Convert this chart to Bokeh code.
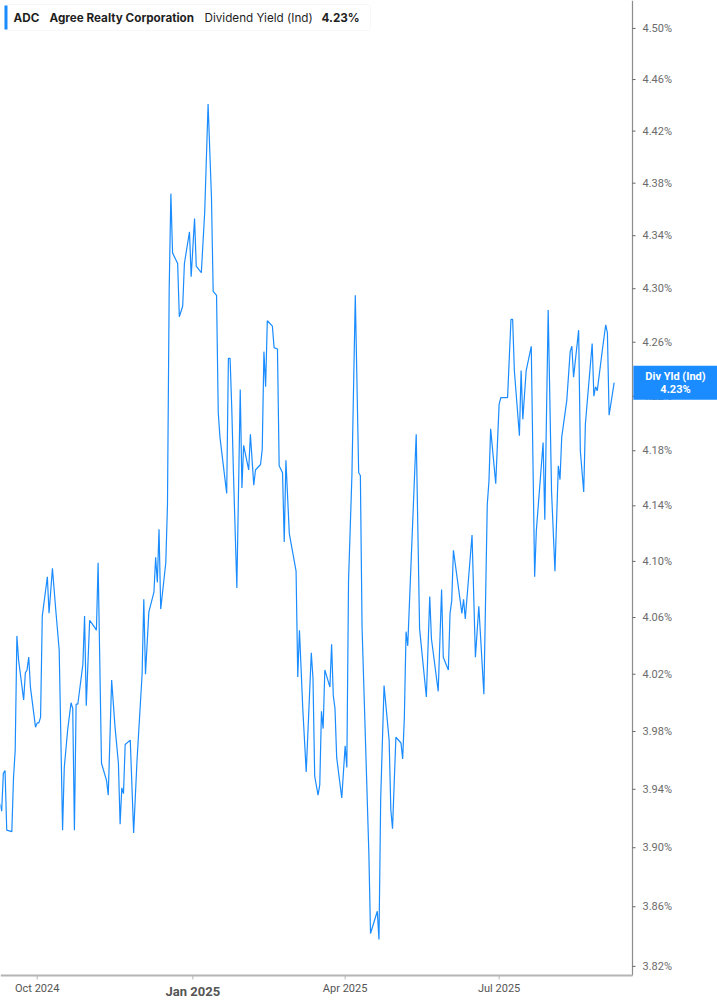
from datetime import datetime, timedelta
import pandas as pd
from bokeh.plotting import figure
from bokeh.models import Label, BoxAnnotation, Range1d, ColumnDataSource, LogScale
from bokeh.core.properties import value
from bokeh.embed import file_html
from bokeh.resources import INLINE

symbol = "ADC"
company = "Agree Realty Corporation"
metric = "Dividend Yield (Ind)"
badge_title = "Div Yld (Ind)"

dates = [
    "2024-09-09", "2024-09-10", "2024-09-11", "2024-09-12", "2024-09-13", "2024-09-16", "2024-09-17", "2024-09-18", "2024-09-19", "2024-09-20",
    "2024-09-23", "2024-09-24", "2024-09-25", "2024-09-26", "2024-09-27", "2024-09-30", "2024-10-01", "2024-10-02", "2024-10-03", "2024-10-04",
    "2024-10-07", "2024-10-08", "2024-10-10", "2024-10-12", "2024-10-14", "2024-10-16", "2024-10-17", "2024-10-19", "2024-10-21", "2024-10-22",
    "2024-10-23", "2024-10-24", "2024-10-25", "2024-10-28", "2024-10-29", "2024-10-30", "2024-11-01", "2024-11-04", "2024-11-05", "2024-11-06",
    "2024-11-08", "2024-11-11", "2024-11-12", "2024-11-14", "2024-11-16", "2024-11-18", "2024-11-19", "2024-11-20", "2024-11-21", "2024-11-22",
    "2024-11-25", "2024-11-27", "2024-11-29", "2024-12-02", "2024-12-03", "2024-12-04", "2024-12-06", "2024-12-09", "2024-12-10", "2024-12-11",
    "2024-12-12", "2024-12-13", "2024-12-16", "2024-12-17", "2024-12-18", "2024-12-19", "2024-12-20", "2024-12-23", "2024-12-24", "2024-12-26",
    "2024-12-27", "2024-12-30", "2024-12-31", "2025-01-02", "2025-01-03", "2025-01-06", "2025-01-08", "2025-01-10", "2025-01-12", "2025-01-13",
    "2025-01-15", "2025-01-16", "2025-01-17", "2025-01-21", "2025-01-22", "2025-01-23", "2025-01-24", "2025-01-25", "2025-01-27", "2025-01-29",
    "2025-01-30", "2025-01-31", "2025-02-03", "2025-02-04", "2025-02-06", "2025-02-07", "2025-02-10", "2025-02-11", "2025-02-12", "2025-02-13",
    "2025-02-14", "2025-02-17", "2025-02-18", "2025-02-20", "2025-02-21", "2025-02-23", "2025-02-24", "2025-02-25", "2025-02-27", "2025-03-03",
    "2025-03-04", "2025-03-05", "2025-03-07", "2025-03-09", "2025-03-12", "2025-03-13", "2025-03-14", "2025-03-16", "2025-03-17", "2025-03-18",
    "2025-03-19", "2025-03-20", "2025-03-23", "2025-03-24", "2025-03-25", "2025-03-26", "2025-03-27", "2025-03-30", "2025-04-01", "2025-04-02",
    "2025-04-03", "2025-04-05", "2025-04-07", "2025-04-09", "2025-04-10", "2025-04-11", "2025-04-15", "2025-04-16", "2025-04-20", "2025-04-21",
    "2025-04-22", "2025-04-24", "2025-04-27", "2025-04-28", "2025-04-29", "2025-05-01", "2025-05-04", "2025-05-05", "2025-05-06", "2025-05-07",
    "2025-05-08", "2025-05-13", "2025-05-15", "2025-05-19", "2025-05-21", "2025-05-22", "2025-05-26", "2025-05-28", "2025-05-29", "2025-06-01",
    "2025-06-02", "2025-06-03", "2025-06-04", "2025-06-09", "2025-06-10", "2025-06-11", "2025-06-15", "2025-06-17", "2025-06-19", "2025-06-22",
    "2025-06-24", "2025-06-25", "2025-06-26", "2025-06-29", "2025-07-01", "2025-07-02", "2025-07-06", "2025-07-08", "2025-07-09", "2025-07-10",
    "2025-07-13", "2025-07-14", "2025-07-15", "2025-07-17", "2025-07-20", "2025-07-22", "2025-07-23", "2025-07-27", "2025-07-28", "2025-07-30",
    "2025-08-01", "2025-08-03", "2025-08-05", "2025-08-06", "2025-08-07", "2025-08-10", "2025-08-12", "2025-08-13", "2025-08-14", "2025-08-17",
    "2025-08-18", "2025-08-20", "2025-08-21", "2025-08-25", "2025-08-26", "2025-08-27", "2025-08-28", "2025-08-31", "2025-09-02", "2025-09-03",
    "2025-09-04", "2025-09-07",
]

yields = [
    3.930, 3.925, 3.951, 3.953, 3.912, 3.911, 3.948, 3.967, 4.047, 4.030,
    4.002, 4.021, 4.023, 4.032, 4.011, 3.983, 3.986, 3.986, 3.990, 4.061,
    4.089, 4.063, 4.095, 4.065, 4.037, 3.912, 3.955, 3.981, 4.000, 3.996,
    3.912, 3.999, 3.999, 4.027, 4.061, 3.998, 4.058, 4.053, 4.051, 4.099,
    3.958, 3.946, 3.936, 4.016, 3.983, 3.958, 3.916, 3.941, 3.937, 3.971,
    3.974, 3.910, 3.960, 4.020, 4.073, 4.020, 4.064, 4.078, 4.103, 4.085,
    4.123, 4.066, 4.099, 4.141, 4.299, 4.372, 4.327, 4.319, 4.279, 4.287,
    4.319, 4.343, 4.309, 4.353, 4.317, 4.312, 4.358, 4.441, 4.369, 4.298,
    4.295, 4.208, 4.190, 4.149, 4.248, 4.248, 4.211, 4.163, 4.081, 4.225,
    4.153, 4.184, 4.166, 4.192, 4.155, 4.166, 4.170, 4.181, 4.253, 4.227,
    4.276, 4.272, 4.256, 4.255, 4.169, 4.164, 4.114, 4.173, 4.120, 4.093,
    4.018, 4.051, 3.995, 3.952, 4.035, 4.017, 3.949, 3.936, 3.943, 3.994,
    3.982, 4.023, 4.011, 4.041, 4.005, 3.996, 3.962, 3.934, 3.970, 3.955,
    4.086, 4.162, 4.295, 4.164, 4.162, 4.053, 3.897, 3.842, 3.857, 3.838,
    3.933, 4.012, 3.974, 3.926, 3.913, 3.976, 3.972, 3.961, 3.990, 4.050,
    4.040, 4.192, 4.052, 4.004, 4.075, 4.045, 4.008, 4.080, 4.032, 4.023,
    4.063, 4.072, 4.108, 4.063, 4.073, 4.059, 4.119, 4.032, 4.068, 4.006,
    4.141, 4.158, 4.196, 4.156, 4.214, 4.219, 4.219, 4.277, 4.277, 4.239,
    4.191, 4.239, 4.203, 4.239, 4.257, 4.089, 4.122, 4.186, 4.130, 4.284,
    4.150, 4.093, 4.169, 4.159, 4.190, 4.217, 4.253, 4.257, 4.234, 4.269,
    4.180, 4.150, 4.200, 4.259, 4.220, 4.227, 4.224, 4.254, 4.273, 4.267,
    4.206, 4.230,
]

y_ticks = [3.82, 3.86, 3.90, 3.94, 3.98, 4.02, 4.06, 4.10, 4.14, 4.18,
           4.22, 4.26, 4.30, 4.34, 4.38, 4.42, 4.46, 4.50]
x_tick_dates = ["2024-10-01", "2025-01-01", "2025-04-01", "2025-07-01"]
x_tick_labels = ["Oct 2024", "Jan 2025", "Apr 2025", "Jul 2025"]
x_tick_bold = [False, True, False, False]

# ---- layout / style constants ----
BLUE = "#1a8cff"
W, H = 717, 1005
X_START = datetime(2024, 9, 9, 7, 26)     # left edge of the canvas
X_END = datetime(2025, 11, 7, 1, 40)      # right edge of the canvas
AXIS_X = datetime(2025, 9, 17, 20, 0)     # where the value axis sits
Y_TOP, Y_BOTTOM = 4.522, 3.794            # canvas top / bottom on the log scale
Y_AXIS = 3.814                            # where the time axis sits
AXIS_FONT = "Roboto"
LEGEND_FONT = "Inter"


def y_below(v, px):
    """value that lies px pixels below v on the log scale"""
    return v * (Y_BOTTOM / Y_TOP) ** (px / H)


px_per_day = W / ((X_END - X_START).total_seconds() / 86400)


def x_right(t, px):
    return t + timedelta(days=px / px_per_day)


src = ColumnDataSource(dict(date=pd.to_datetime(dates), yld=yields))

p = figure(width=W, height=H, output_backend="svg", toolbar_location=None,
           x_axis_type="datetime", y_axis_type="log",
           x_axis_location=None, y_axis_location=None,
           x_range=Range1d(X_START, X_END), y_range=Range1d(Y_BOTTOM, Y_TOP),
           title=None, min_border=0)
p.y_scale = LogScale()
p.outline_line_color = None
p.xgrid.visible = False
p.ygrid.visible = False
p.background_fill_color = "white"
p.border_fill_color = "white"

# data line
p.line("date", "yld", source=src, line_color=BLUE, line_width=1.2)

# ---- value axis (right) ----
n_y = len(y_ticks)
p.segment(x0=[AXIS_X], y0=[Y_AXIS], x1=[AXIS_X], y1=[Y_TOP],
          line_color="#8c8c8c", line_width=1.2)
p.segment(x0=[AXIS_X] * n_y, y0=y_ticks, x1=[x_right(AXIS_X, 3)] * n_y, y1=y_ticks,
          line_color="#666666", line_width=1)
ysrc = ColumnDataSource(dict(x=[AXIS_X] * n_y, y=y_ticks,
                             text=[f"{t:.2f}%" for t in y_ticks]))
p.text(x="x", y="y", text="text", source=ysrc, x_offset=10,
       text_align="left", text_baseline="middle",
       text_font=value(AXIS_FONT), text_font_size=value("11px"),
       text_color="#6b6b6b")

# ---- time axis (bottom) ----
tick_dt = pd.to_datetime(x_tick_dates)
n_x = len(x_tick_dates)
p.segment(x0=[X_START], y0=[Y_AXIS], x1=[AXIS_X], y1=[Y_AXIS],
          line_color="#b4b4b4", line_width=2)
p.segment(x0=tick_dt, y0=[Y_AXIS] * n_x, x1=tick_dt, y1=[y_below(Y_AXIS, 4)] * n_x,
          line_color="#b4b4b4", line_width=1)
xsrc = ColumnDataSource(dict(
    x=tick_dt, y=[Y_AXIS] * n_x, text=x_tick_labels,
    style=["bold" if b else "normal" for b in x_tick_bold],
    size=["13px" if b else "11px" for b in x_tick_bold],
    yoff=[16 if b else 13 for b in x_tick_bold]))
p.text(x="x", y="y", text="text", source=xsrc, y_offset="yoff",
       text_font_style="style", text_font_size="size",
       text_align="center", text_baseline="middle",
       text_font=value(AXIS_FONT), text_color="#555555")

# ---- legend box (top-left) ----
p.add_layout(BoxAnnotation(left=4, right=370, top=H - 4, bottom=H - 30,
                           left_units="screen", right_units="screen",
                           top_units="screen", bottom_units="screen",
                           fill_color="white", fill_alpha=1.0,
                           line_color="#e3e3e3", line_width=1, border_radius=3,
                           editable=False))
p.add_layout(BoxAnnotation(left=4, right=7, top=H - 5, bottom=H - 29,
                           left_units="screen", right_units="screen",
                           top_units="screen", bottom_units="screen",
                           fill_color=BLUE, fill_alpha=1.0, line_color=None,
                           editable=False))

legend_parts = [(symbol, 13, "bold"), (company, 49, "bold"),
                (metric, 204, "normal"), (f"{yields[-1]:.2f}%", 321, "bold")]
for txt, xx, style in legend_parts:
    p.add_layout(Label(x=xx, y=H - 17, x_units="screen", y_units="screen",
                       text=txt, text_font=LEGEND_FONT, text_font_size="11.7px",
                       text_font_style=style, text_color="#1f1f1f",
                       text_align="left", text_baseline="middle"))

# ---- last value badge on the value axis ----
p.add_layout(Label(x=675, y=yields[-1], x_units="screen", y_units="data",
                   text=f"{badge_title}\n{yields[-1]:.2f}%",
                   text_font=AXIS_FONT, text_font_size="11px", text_font_style="bold",
                   text_color="white", text_align="center", text_baseline="middle",
                   text_line_height=1.0,
                   background_fill_color=BLUE, background_fill_alpha=1.0,
                   padding=dict(left=12, right=12, top=4, bottom=4)))

open("out.html", "w").write(file_html(p, INLINE))
